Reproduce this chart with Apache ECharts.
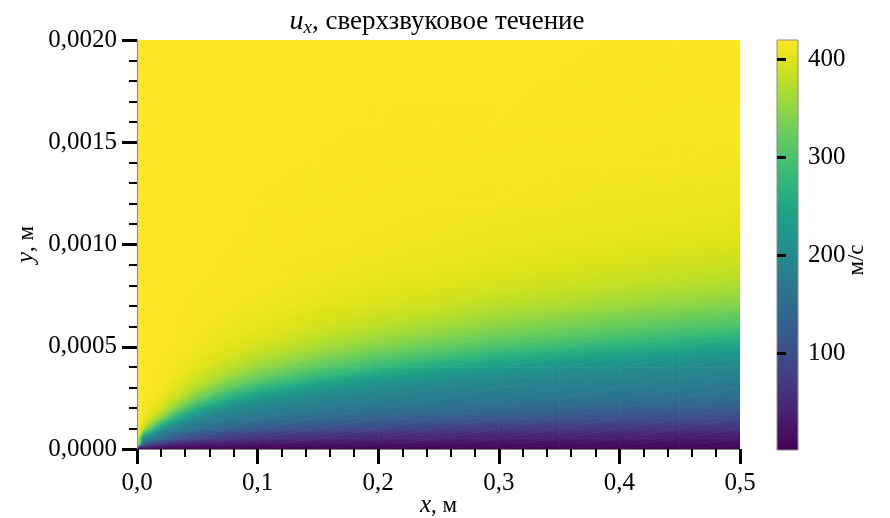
<!DOCTYPE html>
<html>
<head>
<meta charset="utf-8">
<script src="https://cdn.jsdelivr.net/npm/echarts@6/dist/echarts.min.js"></script>
<style>
  html, body { margin: 0; padding: 0; background: #fff; }
  #chart { width: 890px; height: 518px; }
</style>
</head>
<body>
<div id="chart"></div>
<script>
// Stations along the plate, m
const xStations = [0, 0.005, 0.01, 0.02, 0.03, 0.05, 0.075, 0.1, 0.15, 0.2, 0.25, 0.3, 0.35, 0.4, 0.45, 0.5];
// Heights above the wall, m
const yLevels = [0, 0.00002, 0.00005, 0.0001, 0.00015, 0.0002, 0.00025, 0.0003, 0.00035, 0.0004,
                 0.00045, 0.0005, 0.00055, 0.0006, 0.0007, 0.0008, 0.0009, 0.001, 0.0011, 0.0012,
                 0.0014, 0.0016, 0.002];

// u_x, m/s, at every height of yLevels — one profile per station
const ux_0000 = [0, 419, 419, 419, 419, 419, 419, 419, 419, 419, 419, 419, 419, 419, 419, 419, 419, 419, 419, 419, 419, 419, 419];
const ux_0005 = [0, 114, 215, 386, 412, 417, 418, 419, 419, 419, 419, 419, 419, 419, 419, 419, 419, 419, 419, 419, 419, 419, 419];
const ux_0010 = [0, 82, 177, 327, 396, 411, 416, 418, 419, 419, 419, 419, 419, 419, 419, 419, 419, 419, 419, 419, 419, 419, 419];
const ux_0020 = [0, 57, 145, 227, 344, 391, 407, 413, 416, 417, 418, 419, 419, 419, 419, 419, 419, 419, 419, 419, 419, 419, 419];
const ux_0030 = [0, 44, 116, 186, 275, 351, 388, 404, 410, 414, 416, 417, 418, 418, 419, 419, 419, 419, 419, 419, 419, 419, 419];
const ux_0050 = [0, 32, 83, 158, 196, 266, 330, 370, 390, 402, 409, 412, 414, 416, 417, 418, 419, 419, 419, 419, 419, 419, 419];
const ux_0075 = [0, 26, 66, 134, 175, 207, 268, 321, 357, 380, 394, 402, 408, 410, 415, 417, 418, 418, 419, 419, 419, 419, 419];
const ux_0100 = [0, 23, 56, 118, 163, 188, 224, 280, 324, 355, 376, 390, 399, 405, 411, 415, 416, 417, 418, 418, 419, 419, 419];
const ux_0150 = [0, 19, 47, 99, 145, 172, 193, 227, 275, 313, 344, 366, 380, 391, 404, 410, 413, 416, 417, 417, 418, 419, 419];
const ux_0200 = [0, 17, 42, 88, 131, 162, 182, 202, 236, 279, 313, 341, 361, 376, 394, 404, 410, 413, 415, 416, 418, 418, 419];
const ux_0250 = [0, 16, 39, 80, 122, 155, 175, 191, 215, 252, 290, 320, 344, 362, 386, 399, 407, 410, 413, 415, 417, 418, 419];
const ux_0300 = [0, 14, 36, 73, 113, 147, 168, 184, 202, 230, 267, 299, 325, 346, 375, 392, 402, 408, 411, 414, 416, 418, 419];
const ux_0350 = [0, 13, 34, 69, 107, 140, 164, 179, 194, 216, 249, 283, 311, 334, 368, 387, 398, 405, 409, 412, 416, 417, 419];
const ux_0400 = [0, 13, 32, 66, 102, 134, 159, 175, 189, 207, 234, 268, 297, 321, 357, 380, 394, 402, 408, 410, 415, 417, 418];
const ux_0450 = [0, 12, 31, 63, 97, 129, 155, 171, 185, 200, 223, 253, 284, 309, 348, 374, 389, 399, 406, 409, 414, 416, 418];
const ux_0500 = [0, 12, 30, 60, 93, 125, 151, 168, 181, 194, 212, 240, 272, 298, 340, 368, 385, 396, 403, 408, 413, 416, 418];

const profiles = [ux_0000, ux_0005, ux_0010, ux_0020, ux_0030, ux_0050, ux_0075, ux_0100,
                  ux_0150, ux_0200, ux_0250, ux_0300, ux_0350, ux_0400, ux_0450, ux_0500];

// Colour bar range and ticks, m/s
const speedMin = 1;
const speedMax = 420;
const colorbarTicks = [100, 200, 300, 400];

// viridis
const viridis = ['#440154', '#471365', '#482475', '#463480', '#414487', '#3b528b', '#355f8d',
                 '#2f6c8e', '#2a788e', '#25848e', '#21918c', '#1e9c89', '#22a884', '#2fb47c',
                 '#44bf70', '#5ec962', '#7ad151', '#9bd93c', '#bddf26', '#dfe318', '#fde725'];

const FONT = "'Liberation Serif', 'DejaVu Serif', serif";

const viridisRgb = viridis.map(h => [parseInt(h.slice(1, 3), 16), parseInt(h.slice(3, 5), 16), parseInt(h.slice(5, 7), 16)]);

function colorAt(v) {
  let t = (v - speedMin) / (speedMax - speedMin);
  t = Math.max(0, Math.min(1, t));
  const p = t * (viridisRgb.length - 1);
  const i = Math.min(Math.floor(p), viridisRgb.length - 2);
  const f = p - i;
  const a = viridisRgb[i], b = viridisRgb[i + 1];
  return 'rgb(' + Math.round(a[0] + (b[0] - a[0]) * f) + ',' +
                  Math.round(a[1] + (b[1] - a[1]) * f) + ',' +
                  Math.round(a[2] + (b[2] - a[2]) * f) + ')';
}

// Mesh cells: [x0, x1, y0, y1, u(x0,y0), u(x1,y0), u(x0,y1), u(x1,y1)]
const cells = [];
for (let i = 0; i < xStations.length - 1; i++) {
  for (let j = 0; j < yLevels.length - 1; j++) {
    cells.push([xStations[i], xStations[i + 1], yLevels[j], yLevels[j + 1],
                profiles[i][j], profiles[i + 1][j], profiles[i][j + 1], profiles[i + 1][j + 1]]);
  }
}

// Gouraud-style triangle: the value is linear over the triangle, so a linear
// gradient along the value gradient reproduces it exactly.
function shadedTriangle(pts, vals) {
  const p0 = pts[0], p1 = pts[1], p2 = pts[2];
  const v0 = vals[0], v1 = vals[1], v2 = vals[2];
  const e1x = p1[0] - p0[0], e1y = p1[1] - p0[1];
  const e2x = p2[0] - p0[0], e2y = p2[1] - p0[1];
  const det = e1x * e2y - e1y * e2x;
  let fill;
  const gx = ((v1 - v0) * e2y - (v2 - v0) * e1y) / det;
  const gy = ((v2 - v0) * e1x - (v1 - v0) * e2x) / det;
  const gn = Math.hypot(gx, gy);
  if (!isFinite(gn) || gn < 1e-9) {
    fill = colorAt((v0 + v1 + v2) / 3);
  } else {
    const dx = gx / gn, dy = gy / gn;
    const ts = pts.map(p => p[0] * dx + p[1] * dy);
    const t0 = ts[0];
    const tmin = Math.min(ts[0], ts[1], ts[2]);
    const tmax = Math.max(ts[0], ts[1], ts[2]);
    const vS = v0 + gn * (tmin - t0);
    const vE = v0 + gn * (tmax - t0);
    const sx = p0[0] + dx * (tmin - t0), sy = p0[1] + dy * (tmin - t0);
    const ex = p0[0] + dx * (tmax - t0), ey = p0[1] + dy * (tmax - t0);
    const n = Math.max(2, Math.ceil(Math.abs(vE - vS) / 12));
    const stops = [];
    for (let k = 0; k <= n; k++) {
      stops.push({ offset: k / n, color: colorAt(vS + (vE - vS) * k / n) });
    }
    fill = new echarts.graphic.LinearGradient(sx, sy, ex, ey, stops, true);
  }
  return {
    type: 'polygon',
    shape: { points: pts },
    style: { fill: fill, stroke: fill, lineWidth: 0.7 }
  };
}

function renderCell(params, api) {
  const x0 = api.value(0), x1 = api.value(1), y0 = api.value(2), y1 = api.value(3);
  const bl = api.coord([x0, y0]), br = api.coord([x1, y0]);
  const tl = api.coord([x0, y1]), tr = api.coord([x1, y1]);
  const vbl = api.value(4), vbr = api.value(5), vtl = api.value(6), vtr = api.value(7);
  return {
    type: 'group',
    children: [
      shadedTriangle([bl, br, tr], [vbl, vbr, vtr]),
      shadedTriangle([bl, tr, tl], [vbl, vtr, vtl])
    ]
  };
}

function renderColorbar(params, api) {
  const lo = api.coord([api.value(0), api.value(2)]);
  const hi = api.coord([api.value(1), api.value(3)]);
  const stops = viridis.map((c, k) => ({ offset: k / (viridis.length - 1), color: c }));
  return {
    type: 'rect',
    shape: { x: lo[0], y: hi[1], width: hi[0] - lo[0], height: lo[1] - hi[1] },
    style: {
      fill: new echarts.graphic.LinearGradient(0, lo[1], 0, hi[1], stops, true),
      stroke: '#8a8a8a',
      lineWidth: 1
    }
  };
}

const labelStyle = { fontFamily: FONT, fontSize: 25, color: '#000' };
const frameLine = { show: true, lineStyle: { color: '#8a8a8a', width: 1 } };
const majorTick = { show: true, inside: false, length: 15, lineStyle: { color: '#000', width: 3 } };
const minorTick = { show: true, splitNumber: 5, length: 8, lineStyle: { color: '#000', width: 2 } };

const chart = echarts.init(document.getElementById('chart'), null, { renderer: 'canvas' });

chart.setOption({
  animation: false,
  backgroundColor: '#fff',
  title: {
    text: '{i|u}{s|x}{n|, сверхзвуковое течение}',
    left: 432,
    top: 1,
    textAlign: 'center',
    textStyle: {
      rich: {
        i: { fontFamily: FONT, fontStyle: 'italic', fontWeight: 'normal', fontSize: 28, color: '#000' },
        s: { fontFamily: FONT, fontStyle: 'italic', fontWeight: 'normal', fontSize: 19, color: '#000', padding: [12, 0, 0, 0] },
        n: { fontFamily: FONT, fontWeight: 'normal', fontSize: 27, color: '#000' }
      }
    }
  },
  grid: [
    { left: 137, right: 150, top: 40, bottom: 69, outerBoundsMode: 'none' },
    { left: 777, width: 21, top: 40, bottom: 68, outerBoundsMode: 'none' }
  ],
  xAxis: [
    {
      type: 'value', gridIndex: 0, min: 0, max: 0.5, interval: 0.1, z: 5,
      axisLine: frameLine,
      axisTick: majorTick,
      minorTick: minorTick,
      splitLine: { show: false },
      axisLabel: Object.assign({ margin: 22, formatter: v => v.toFixed(1).replace('.', ',') }, labelStyle),
      name: '{i|x}{n|, м}',
      nameLocation: 'middle',
      nameGap: 44,
      nameMoveOverlap: false,
      nameTextStyle: {
        rich: {
          i: { fontFamily: FONT, fontStyle: 'italic', fontSize: 25, color: '#000' },
          n: { fontFamily: FONT, fontSize: 23, color: '#000' }
        }
      }
    },
    {
      type: 'value', gridIndex: 0, min: 0, max: 0.5, position: 'top', z: 5,
      axisLine: frameLine, axisTick: { show: false }, axisLabel: { show: false }, splitLine: { show: false }
    },
    {
      type: 'value', gridIndex: 1, min: 0, max: 1, show: false
    }
  ],
  yAxis: [
    {
      type: 'value', gridIndex: 0, min: 0, max: 0.002, interval: 0.0005, z: 5,
      axisLine: frameLine,
      axisTick: majorTick,
      minorTick: minorTick,
      splitLine: { show: false },
      axisLabel: Object.assign({ margin: 20, formatter: v => v.toFixed(4).replace('.', ',') }, labelStyle),
      name: '{i|y}{n|, м}',
      nameLocation: 'middle',
      nameGap: 98,
      nameMoveOverlap: false,
      nameTextStyle: {
        rich: {
          i: { fontFamily: FONT, fontStyle: 'italic', fontSize: 25, color: '#000' },
          n: { fontFamily: FONT, fontSize: 23, color: '#000' }
        }
      }
    },
    {
      type: 'value', gridIndex: 0, min: 0, max: 0.002, position: 'right', z: 5,
      axisLine: frameLine, axisTick: { show: false }, axisLabel: { show: false }, splitLine: { show: false }
    },
    {
      type: 'value', gridIndex: 1, min: speedMin, max: speedMax, position: 'right', z: 5,
      axisLine: { show: false },
      axisTick: { show: true, inside: false, length: 9, customValues: colorbarTicks, lineStyle: { color: '#000', width: 3 } },
      axisLabel: Object.assign({ margin: 10, customValues: colorbarTicks }, labelStyle),
      splitLine: { show: false },
      name: 'м/с',
      nameLocation: 'middle',
      nameRotate: 90,
      nameGap: 47,
      nameMoveOverlap: false,
      nameTextStyle: { fontFamily: FONT, fontSize: 23, color: '#000', padding: [0, 30, 0, 0] }
    }
  ],
  series: [
    {
      name: 'u_x',
      type: 'custom',
      xAxisIndex: 0,
      yAxisIndex: 0,
      clip: true,
      silent: true,
      progressive: 0,
      renderItem: renderCell,
      dimensions: ['x0', 'x1', 'y0', 'y1', 'u00', 'u10', 'u01', 'u11'],
      encode: { x: [0, 1], y: [2, 3] },
      data: cells
    },
    {
      name: 'colorbar',
      type: 'custom',
      xAxisIndex: 2,
      yAxisIndex: 2,
      silent: true,
      renderItem: renderColorbar,
      encode: { x: [0, 1], y: [2, 3] },
      data: [[0, 1, speedMin, speedMax]]
    }
  ]
});
</script>
</body>
</html>
